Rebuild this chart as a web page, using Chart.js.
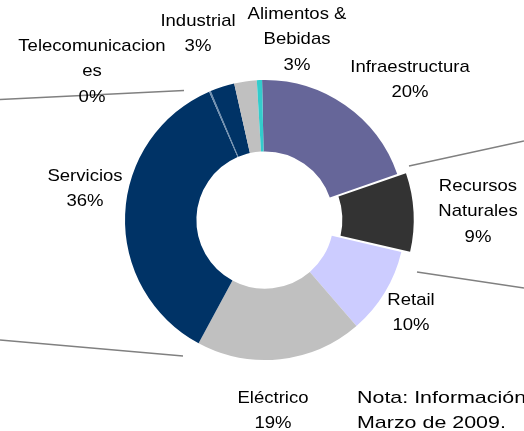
<!DOCTYPE html>
<html>
<head>
<meta charset="utf-8">
<script src="https://cdn.jsdelivr.net/npm/chart.js@4"></script>
<style>
    body { margin: 0; background: #fff; }
    #contenedor { width: 524px; height: 431px; position: relative; }
</style>
</head>
<body>
<div id="contenedor"><canvas id="cartera-sectores"></canvas></div>
<script>
// Sectores de la cartera (en el orden del gráfico, empezando arriba)
var sectores = ['Infraestructura', 'Recursos Naturales', 'Retail', 'Eléctrico', 'Servicios',
                'Telecomunicaciones', 'Industrial', 'Alimentos & Bebidas', ''];

// Participación de cada sector (%)
var participacion = [20.0, 9.0, 10.0, 19.2, 35.6, 0.2, 2.8, 2.6, 0.6];

// Como aparece cada nombre cortado en líneas
var etiquetas = [
    ['Infraestructura'],
    ['Recursos', 'Naturales'],
    ['Retail'],
    ['Eléctrico'],
    ['Servicios'],
    ['Telecomunicacion', 'es'],
    ['Industrial'],
    ['Alimentos &', 'Bebidas'],
    []
];

// Nota al pie
var nota = ['Nota: Información', 'Marzo de 2009.'];

// Colores de cada sector
var colores = ['#666699', '#333333', '#CCCCFF', '#C0C0C0', '#003366',
               '#6f8fb0', '#003366', '#C0C0C0', '#33CCCC'];

// Sector separado del resto
var separacion = [0, 24, 0, 0, 0, 0, 0, 0, 0];

// Posición de cada etiqueta respecto al centro del anillo (primera línea)
var posEtiquetas = [
    [145, -153], [213, -34], [146, 80], [8, 178], [-180, -44],
    [-173, -174], [-67, -199], [32, -206], [0, 0]
];

// Líneas guía que salen del gráfico (respecto al centro)
var guias = [
    [-265, -120.5, -81, -129.5],
    [-265, 120, -82, 136],
    [144, -54, 259, -79],
    [152, 52, 259, 68]
];

// Plugin para dibujar las etiquetas, la nota y las líneas guía
var etiquetasPlugin = {
    id: 'etiquetas',
    afterDraw: function(chart) {
        var ctx = chart.ctx;
        var arco = chart.getDatasetMeta(0).data[0];
        var cx = arco.x;
        var cy = arco.y;
        var total = participacion.reduce(function(a, b) { return a + b; }, 0);
        var alto = 25.5;

        ctx.save();
        // Líneas guía
        ctx.strokeStyle = '#808080';
        ctx.lineWidth = 1.5;
        guias.forEach(function(g) {
            ctx.beginPath();
            ctx.moveTo(cx + g[0], cy + g[1]);
            ctx.lineTo(cx + g[2], cy + g[3]);
            ctx.stroke();
        });

        ctx.fillStyle = '#000';
        ctx.font = '17px "Liberation Sans", Arial, sans-serif';
        ctx.textBaseline = 'middle';

        function texto(t, x, y, alinear, estirar) {
            ctx.save();
            ctx.translate(x, y);
            ctx.scale(estirar, 1);
            ctx.textAlign = alinear;
            ctx.fillText(t, 0, 0);
            ctx.restore();
        }

        // Etiquetas con nombre y porcentaje
        etiquetas.forEach(function(lineas, i) {
            if (lineas.length === 0) return;
            var pct = Math.round(participacion[i] / total * 100) + '%';
            var todas = lineas.concat([pct]);
            var x = cx + posEtiquetas[i][0];
            var y = cy + posEtiquetas[i][1];
            todas.forEach(function(t, j) {
                texto(t, x, y + j * alto, 'center', 1.09);
            });
        });

        // Nota
        nota.forEach(function(t, j) {
            texto(t, cx + 92, cy + 178 + j * alto, 'left', 1.26);
        });
        ctx.restore();
    }
};

var ctx = document.getElementById('cartera-sectores').getContext('2d');

var myChart = new Chart(ctx, {
    type: 'doughnut',
    data: {
        labels: sectores,
        datasets: [{
            data: participacion,
            backgroundColor: colores,
            borderWidth: 0,
            offset: separacion
        }]
    },
    options: {
        responsive: true,
        maintainAspectRatio: false,
        animation: false,
        radius: 140,
        cutout: '49%',
        rotation: -1.2,
        layout: {
            padding: { top: 9, bottom: 0, left: 6, right: 0 }
        },
        plugins: {
            legend: { display: false },
            tooltip: { enabled: false }
        }
    },
    plugins: [etiquetasPlugin]
});
</script>
</body>
</html>
